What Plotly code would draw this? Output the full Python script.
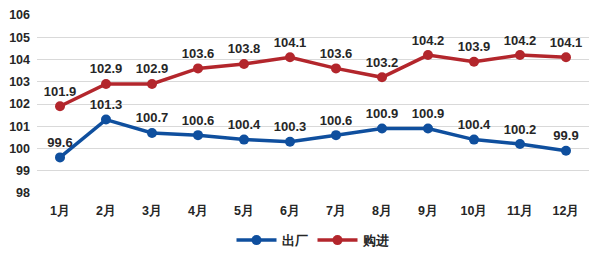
import plotly.graph_objects as go

months = ["1月", "2月", "3月", "4月", "5月", "6月", "7月", "8月", "9月", "10月", "11月", "12月"]
chuchang = [99.6, 101.3, 100.7, 100.6, 100.4, 100.3, 100.6, 100.9, 100.9, 100.4, 100.2, 99.9]
goujin = [101.9, 102.9, 102.9, 103.6, 103.8, 104.1, 103.6, 103.2, 104.2, 103.9, 104.2, 104.1]
y_ticks = [98, 99, 100, 101, 102, 103, 104, 105, 106]

font_family = "Liberation Sans, Arial, sans-serif"

fig = go.Figure()
fig.add_trace(go.Scatter(
    x=months, y=chuchang, name="出厂", mode="lines+markers+text",
    line=dict(color="#0f4f9e", width=3.5), marker=dict(size=10, color="#0f4f9e"),
    text=[f"{v:.1f}" for v in chuchang], textposition="top center",
    textfont=dict(size=13, color="#262626", family=font_family, weight="bold"),
    cliponaxis=False,
))
fig.add_trace(go.Scatter(
    x=months, y=goujin, name="购进", mode="lines+markers+text",
    line=dict(color="#b3262c", width=3.5), marker=dict(size=10, color="#b3262c"),
    text=[f"{v:.1f}" for v in goujin], textposition="top center",
    textfont=dict(size=13, color="#262626", family=font_family, weight="bold"),
    cliponaxis=False,
))

fig.update_layout(
    width=598, height=253,
    margin=dict(l=37, r=9, t=15, b=60, autoexpand=False),
    paper_bgcolor="white", plot_bgcolor="white",
    font=dict(family=font_family, size=12, color="#262626"),
    showlegend=True,
    legend=dict(orientation="h", x=0.5, xanchor="center", y=-0.265, yanchor="middle",
                font=dict(size=13, weight="bold"), itemwidth=40, tracegroupgap=0),
)
fig.update_xaxes(type="category", range=[-0.5, 11.5], showgrid=False, showline=False,
                 ticks="", tickfont=dict(size=12.5, weight="bold"), ticklabelstandoff=8)
fig.update_yaxes(range=[98, 106], tickvals=y_ticks, showgrid=True, gridcolor="#d9d9d9",
                 gridwidth=1, zeroline=False, showline=False, ticks="",
                 tickfont=dict(size=12.5, weight="bold"), ticklabelstandoff=6)

fig.write_html("out.html")
